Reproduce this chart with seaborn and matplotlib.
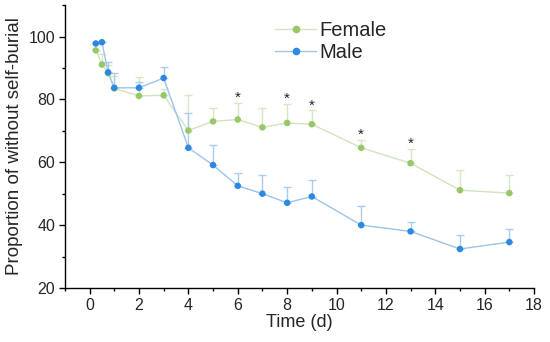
import numpy as np
import pandas as pd
import matplotlib
matplotlib.use("Agg")
import matplotlib.pyplot as plt
import seaborn as sns
from matplotlib.ticker import MultipleLocator
from matplotlib.lines import Line2D

time = [0.25, 0.5, 0.75, 1, 2, 3, 4, 5, 6, 7, 8, 9, 11, 13, 15, 17]
female = [95.6, 91.1, 88.3, 83.5, 81.1, 81.3, 70.1, 73.0, 73.6, 71.1, 72.5, 72.1, 64.6, 59.7, 51.1, 50.2]
female_up = [95.6, 94.4, 91.0, 87.6, 87.1, 83.4, 81.5, 77.2, 78.8, 77.4, 78.5, 76.5, 67.2, 64.2, 57.4, 55.8]
male = [97.8, 98.2, 88.6, 83.7, 83.7, 86.8, 64.6, 59.1, 52.5, 50.0, 47.1, 49.1, 40.0, 38.0, 32.4, 34.6]
male_up = [97.8, 98.2, 91.8, 88.5, 85.6, 90.4, 75.8, 65.4, 56.7, 55.8, 52.2, 54.3, 46.0, 41.0, 36.7, 38.9]
star_times = [6, 8, 9, 11, 13]

df = pd.DataFrame({
    "Time (d)": time * 2,
    "value": female + male,
    "Sex": ["Female"] * len(time) + ["Male"] * len(time),
})

sns.set_style("white")
plt.rcParams["font.family"] = ["Liberation Sans", "DejaVu Sans"]

fig = plt.figure(figsize=(5.5, 3.42), dpi=100)
ax = fig.add_axes([0.118, 0.158, 0.853, 0.827])

g_col, g_line, g_err = "#97c767", "#d3e3bd", "#d6e6c2"
b_col, b_line, b_err = "#2e88e0", "#9cc4ec", "#a9cdef"

ax.errorbar(time, female, yerr=[np.zeros(len(time)), np.array(female_up) - np.array(female)],
            fmt="none", ecolor=g_err, elinewidth=1, capsize=3, capthick=1, zorder=1)
ax.errorbar(time, male, yerr=[np.zeros(len(time)), np.array(male_up) - np.array(male)],
            fmt="none", ecolor=b_err, elinewidth=1, capsize=3, capthick=1, zorder=1)

sns.lineplot(data=df, x="Time (d)", y="value", hue="Sex",
             palette={"Female": g_line, "Male": b_line}, linewidth=1,
             legend=False, ax=ax, zorder=2)
sns.scatterplot(data=df, x="Time (d)", y="value", hue="Sex",
                palette={"Female": g_col, "Male": b_col}, s=22, linewidth=0,
                legend=False, ax=ax, zorder=3)

for t in star_times:
    i = time.index(t)
    ax.text(t, female_up[i] + 1.6, "*", ha="center", va="center", fontsize=11, color="#222222")

handles = [
    Line2D([], [], color=g_line, lw=1, marker="o", markersize=4.5, markerfacecolor=g_col, markeredgecolor=g_col),
    Line2D([], [], color=b_line, lw=1, marker="o", markersize=4.5, markerfacecolor=b_col, markeredgecolor=b_col),
]
ax.legend(handles, ["Female", "Male"], loc="upper left", bbox_to_anchor=(0.41, 1.008),
          frameon=False, fontsize=14.5, handlelength=2.0, handletextpad=0.2, labelspacing=0.15)

ax.set_xlim(-1, 18)
ax.set_ylim(20, 110)
ax.set_xticks([0, 2, 4, 6, 8, 10, 12, 14, 16, 18])
ax.set_yticks([20, 40, 60, 80, 100])
ax.xaxis.set_minor_locator(MultipleLocator(1))
ax.yaxis.set_minor_locator(MultipleLocator(10))
ax.tick_params(axis="both", which="major", direction="out", length=4, width=1, labelsize=11.5, color="black", pad=3)
ax.tick_params(axis="both", which="minor", direction="out", length=2.5, width=1, color="black")
ax.tick_params(axis="x", which="both", bottom=True)
ax.tick_params(axis="y", which="both", left=True)

for side in ["top", "right"]:
    ax.spines[side].set_visible(False)
for side in ["left", "bottom"]:
    ax.spines[side].set_color("black")
    ax.spines[side].set_linewidth(1)

ax.set_xlabel("Time (d)", fontsize=13, labelpad=1)
ax.set_ylabel("Proportion of without self-burial", fontsize=13.5, labelpad=4)

fig.savefig("out.png", dpi=100)
